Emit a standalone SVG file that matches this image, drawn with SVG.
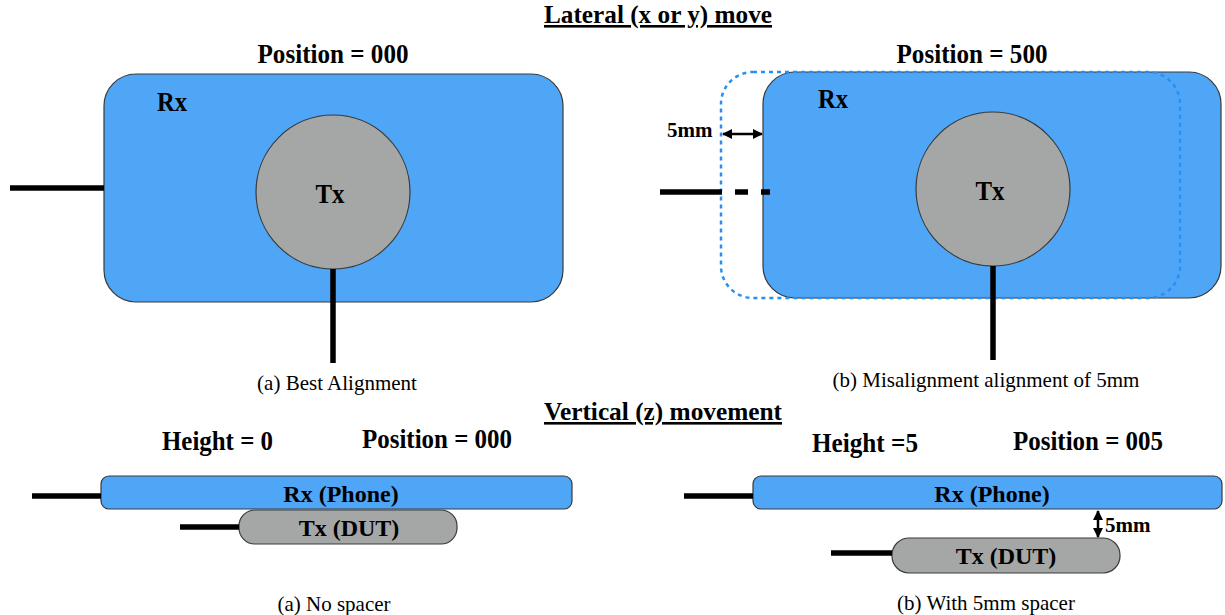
<svg xmlns="http://www.w3.org/2000/svg" width="1225" height="615" viewBox="0 0 1225 615">
  <defs>
    <marker id="arrowHead" viewBox="0 0 10 10" refX="9" refY="5" markerWidth="11" markerHeight="10" orient="auto-start-reverse" markerUnits="userSpaceOnUse">
      <path d="M0,0 L10,5 L0,10 z" fill="#000"/>
    </marker>
  </defs>
  <style>
    text { font-family: "Liberation Serif", "Times New Roman", serif; fill: #000; }
    .title { font-size: 26px; font-weight: bold; text-decoration: underline; text-anchor: middle; }
    .head { font-size: 27px; font-weight: bold; }
    .lbl { font-size: 27px; font-weight: bold; }
    .bar { font-size: 24px; font-weight: bold; text-anchor: middle; }
    .dim { font-size: 21px; font-weight: bold; }
    .cap { font-size: 21px; text-anchor: middle; }
    .rx { fill: #4fa5f6; stroke: #3a3a3a; stroke-width: 1.2; }
    .tx { fill: #a5a7a6; stroke: #3a3a3a; stroke-width: 1.2; }
    .ghost { fill: none; stroke: #2a8ff0; stroke-width: 2.5; stroke-dasharray: 4 4; }
    .wire { stroke: #000; stroke-width: 5.5; fill: none; }
    .dimline { stroke: #000; stroke-width: 2.5; fill: none; marker-start: url(#arrowHead); marker-end: url(#arrowHead); }
  </style>

  <!-- section headings -->
  <text class="title" x="658" y="23" textLength="228" lengthAdjust="spacingAndGlyphs">Lateral (x or y) move</text>
  <text class="title" x="663" y="420" textLength="238" lengthAdjust="spacingAndGlyphs">Vertical (z) movement</text>

  <!-- (a) best alignment, top view -->
  <g id="lateral-a">
    <text class="head" x="333" y="63" text-anchor="middle" textLength="151" lengthAdjust="spacingAndGlyphs">Position = 000</text>
    <rect class="rx" x="104" y="74" width="459" height="228" rx="32"/>
    <text class="lbl" x="157" y="111" textLength="30" lengthAdjust="spacingAndGlyphs">Rx</text>
    <circle class="tx" cx="333" cy="192" r="77"/>
    <text class="lbl" x="330" y="203" text-anchor="middle" textLength="29" lengthAdjust="spacingAndGlyphs">Tx</text>
    <text class="cap" x="337" y="390">(a) Best Alignment</text>
  </g>

  <!-- (b) 5mm lateral offset, top view -->
  <g id="lateral-b">
    <text class="head" x="972" y="63" text-anchor="middle" textLength="151" lengthAdjust="spacingAndGlyphs">Position = 500</text>
    <rect class="rx" x="763" y="72" width="458" height="226" rx="32"/>
    <rect class="ghost" x="721" y="72" width="459" height="226" rx="32"/>
    <text class="lbl" x="818" y="108" textLength="30" lengthAdjust="spacingAndGlyphs">Rx</text>
    <circle class="tx" cx="993" cy="189" r="77"/>
    <text class="lbl" x="990" y="200" text-anchor="middle" textLength="29" lengthAdjust="spacingAndGlyphs">Tx</text>
    <text class="dim" x="667" y="137">5mm</text>
    <text class="cap" x="986" y="387">(b) Misalignment alignment of 5mm</text>
  </g>

  <!-- (a) no spacer, side view -->
  <g id="vertical-a">
    <text class="head" x="162" y="450" textLength="111" lengthAdjust="spacingAndGlyphs">Height = 0</text>
    <text class="head" x="362" y="448" textLength="150" lengthAdjust="spacingAndGlyphs">Position = 000</text>
    <rect class="rx" x="101" y="476" width="471" height="33" rx="8"/>
    <text class="bar" x="341" y="502">Rx (Phone)</text>
    <rect class="tx" x="239" y="510" width="218" height="34" rx="16"/>
    <text class="bar" x="349" y="536">Tx (DUT)</text>
    <text class="cap" x="334" y="611">(a) No spacer</text>
  </g>

  <!-- (b) 5mm spacer, side view -->
  <g id="vertical-b">
    <text class="head" x="812" y="452" textLength="106" lengthAdjust="spacingAndGlyphs">Height =5</text>
    <text class="head" x="1013" y="450" textLength="150" lengthAdjust="spacingAndGlyphs">Position = 005</text>
    <rect class="rx" x="753" y="476" width="469" height="33" rx="8"/>
    <text class="bar" x="992" y="502">Rx (Phone)</text>
    <rect class="tx" x="892" y="538" width="228" height="35" rx="17"/>
    <text class="bar" x="1006" y="564">Tx (DUT)</text>
    <text class="dim" x="1105" y="532">5mm</text>
    <text class="cap" x="986" y="610">(b) With 5mm spacer</text>
  </g>

  <!-- leads and dimension arrows -->
  <g id="connectors">
    <line class="wire" x1="10" y1="188" x2="104" y2="188"/>
    <line class="wire" x1="333" y1="269" x2="333" y2="363"/>
    <line class="wire" x1="660" y1="192" x2="722" y2="192"/>
    <line class="wire" x1="735" y1="192" x2="748" y2="192"/>
    <line class="wire" x1="761" y1="192" x2="770" y2="192"/>
    <line class="wire" x1="993" y1="266" x2="993" y2="360"/>
    <line class="wire" x1="32" y1="496" x2="101" y2="496"/>
    <line class="wire" x1="180" y1="527" x2="239" y2="527"/>
    <line class="wire" x1="684" y1="496" x2="753" y2="496"/>
    <line class="wire" x1="831" y1="553" x2="892" y2="553"/>
    <line class="dimline" x1="723" y1="134" x2="762" y2="134"/>
    <line class="dimline" x1="1098" y1="511" x2="1098" y2="537"/>
  </g>
</svg>
